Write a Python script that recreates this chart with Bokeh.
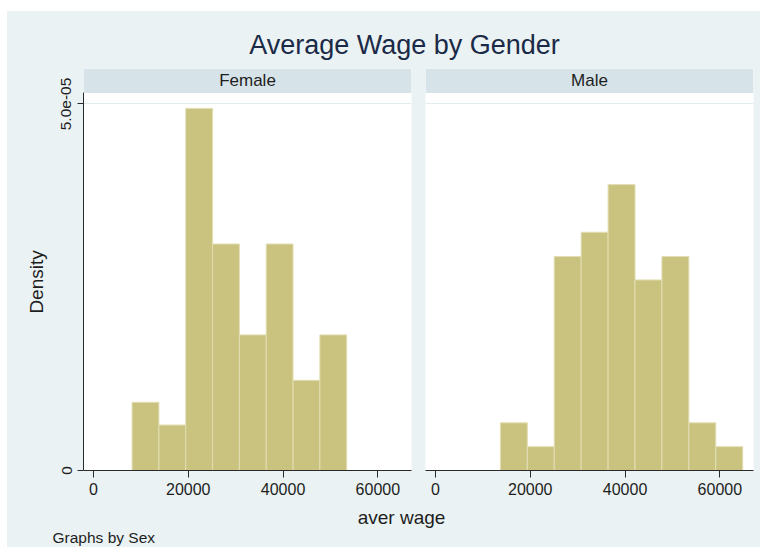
import math
from bokeh.plotting import figure
from bokeh.layouts import column, row
from bokeh.models import (Range1d, FixedTicker, CustomJSTickFormatter, NumeralTickFormatter,
                          BoxAnnotation, Label, Spacer, ColumnDataSource)
from bokeh.embed import file_html
from bokeh.resources import INLINE

# ---------------- data ----------------
panel_names = ["Female", "Male"]
female_edges = [8150, 13810, 19470, 25130, 30790, 36450, 42110, 47770, 53430]
female_density = [0.93e-5, 0.62e-5, 4.94e-5, 3.09e-5, 1.85e-5, 3.09e-5, 1.23e-5, 1.85e-5]
male_edges = [13700, 19380, 25060, 30740, 36420, 42100, 47780, 53460, 59140, 64820]
male_density = [0.65e-5, 0.325e-5, 2.92e-5, 3.25e-5, 3.90e-5, 2.60e-5, 2.92e-5, 0.65e-5, 0.325e-5]
x_ticks = [0, 20000, 40000, 60000]
y_ticks = [0, 5e-5]
title_text = "Average Wage by Gender"
x_title = "aver wage"
y_title = "Density"
note_text = "Graphs by Sex"

# ---------------- styling ----------------
FONT = "Liberation Sans"
BG = "#eaf2f3"
STRIP = "#d6e3e8"
BAR = "#cac27f"
BAR_LINE = "#e2deb3"
AXIS = "#2a2a2a"
TXT = "#1e1e1e"
TITLE_COL = "#1b2a47"

X_LO, X_HI = -2100, 67100
Y_TOP = 5.484e-5          # top of the panel frame (top of strip)
STRIP_BOTTOM = 5.150e-5   # where the strip starts

PANEL_H = 436
HEAD_H = 57
FOOT_H = 43
LEFT_W = 43


def panel(name, edges, dens, width, left_border, with_y):
    p = figure(width=width, height=PANEL_H, x_range=Range1d(X_LO, X_HI),
               y_range=Range1d(0, Y_TOP), output_backend="svg", toolbar_location=None,
               min_border_left=left_border, min_border_right=7, min_border_top=0,
               min_border_bottom=34, title=None)
    p.background_fill_color = "white"
    p.border_fill_color = BG
    p.outline_line_color = None

    src = ColumnDataSource(dict(left=edges[:-1], right=edges[1:], top=dens))
    p.quad(left="left", right="right", bottom=0, top="top", source=src,
           fill_color=BAR, line_color=BAR_LINE, line_width=1)

    p.add_layout(BoxAnnotation(bottom=STRIP_BOTTOM, fill_color=STRIP, fill_alpha=1.0,
                               line_color=None))
    p.add_layout(Label(x=(X_LO + X_HI) / 2, y=(STRIP_BOTTOM + Y_TOP) / 2, text=name,
                       text_align="center", text_baseline="middle",
                       text_font=FONT, text_font_size="17px", text_color=TXT))

    p.xgrid.visible = False
    p.ygrid.ticker = FixedTicker(ticks=[y_ticks[-1]])
    p.ygrid.grid_line_color = "#e3ecef"
    p.ygrid.grid_line_width = 1

    xa = p.xaxis[0]
    xa.ticker = FixedTicker(ticks=x_ticks)
    xa.formatter = NumeralTickFormatter(format="0")
    xa.major_tick_out = 7
    xa.major_tick_in = 0
    xa.minor_tick_line_color = None
    xa.major_label_standoff = 5
    xa.major_label_text_font = FONT
    xa.major_label_text_font_size = "16px"
    xa.major_label_text_color = TXT
    xa.axis_line_color = AXIS
    xa.major_tick_line_color = AXIS

    ya = p.yaxis[0]
    if with_y:
        ya.ticker = FixedTicker(ticks=y_ticks)
        ya.formatter = CustomJSTickFormatter(
            code="return tick == 0 ? '0' : tick.toExponential(1).replace('e-', 'e-0');")
        ya.bounds = (0, STRIP_BOTTOM)
        ya.major_tick_out = 6
        ya.major_tick_in = 0
        ya.minor_tick_line_color = None
        ya.major_label_orientation = "vertical"
        ya.major_label_standoff = 6
        ya.major_label_text_font = FONT
        ya.major_label_text_font_size = "15.5px"
        ya.major_label_text_color = TXT
        ya.axis_line_color = AXIS
        ya.major_tick_line_color = AXIS
    else:
        ya.visible = False
    return p


def text_strip(w, h):
    f = figure(width=w, height=h, x_range=Range1d(0, w), y_range=Range1d(0, h),
               x_axis_type=None, y_axis_type=None, output_backend="svg",
               toolbar_location=None, min_border=0, title=None)
    f.background_fill_color = BG
    f.border_fill_color = BG
    f.outline_line_color = None
    f.grid.visible = False
    return f


side = text_strip(LEFT_W, PANEL_H)
side.add_layout(Label(x=29, y=204.5, text=y_title, angle=math.pi / 2,
                      text_align="center", text_baseline="middle", text_font=FONT,
                      text_font_size="19px", text_color=TXT))

pf = panel(panel_names[0], female_edges, female_density, 411 - LEFT_W, 76 - LEFT_W, True)
pm = panel(panel_names[1], male_edges, male_density, 342, 7, False)

head = text_strip(753, HEAD_H)
head.add_layout(Label(x=397, y=24, text=title_text, text_align="center",
                      text_baseline="middle", text_font=FONT,
                      text_font_size="27px", text_color=TITLE_COL))

foot = text_strip(753, FOOT_H)
foot.add_layout(Label(x=394, y=30.5, text=x_title, text_align="center",
                      text_baseline="middle", text_font=FONT,
                      text_font_size="19px", text_color=TXT))
foot.add_layout(Label(x=45, y=10.5, text=note_text, text_align="left",
                      text_baseline="middle", text_font=FONT,
                      text_font_size="15.5px", text_color=TXT))

inner = column(head, row(side, pf, pm, styles={"background-color": BG}), foot,
               styles={"background-color": BG})
layout = column(Spacer(width=760, height=11, styles={"background-color": "white"}),
                row(Spacer(width=7, height=HEAD_H + PANEL_H + FOOT_H,
                           styles={"background-color": "white"}), inner))

html = file_html(layout, INLINE)
html = html.replace("<body>", '<body style="background-color:%s;">' % BG, 1)
open("out.html", "w").write(html)
